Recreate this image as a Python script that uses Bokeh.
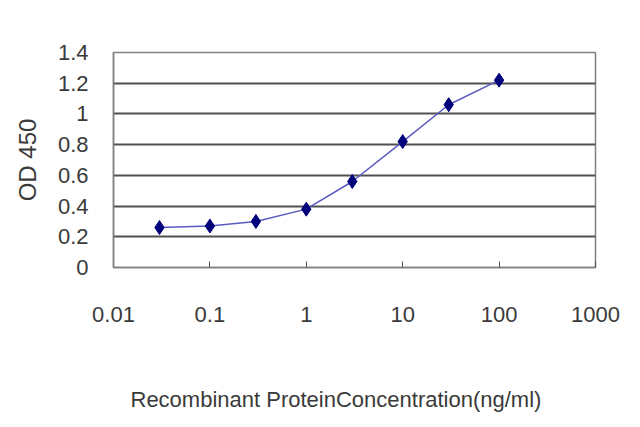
from bokeh.plotting import figure
from bokeh.models import FixedTicker, Range1d, Title
from bokeh.embed import file_html
from bokeh.resources import INLINE

concentration = [0.03, 0.1, 0.3, 1, 3, 10, 30, 100]
od450 = [0.26, 0.27, 0.30, 0.38, 0.56, 0.82, 1.06, 1.22]
x_ticks = [0.01, 0.1, 1, 10, 100, 1000]
x_tick_labels = ["0.01", "0.1", "1", "10", "100", "1000"]
y_ticks = [0, 0.2, 0.4, 0.6, 0.8, 1.0, 1.2, 1.4]
y_tick_labels = ["0", "0.2", "0.4", "0.6", "0.8", "1", "1.2", "1.4"]
x_title = "Recombinant ProteinConcentration(ng/ml)"
y_title = "OD 450"

FONT = "Liberation Sans"
TXT = "#3a3a3a"

p = figure(width=624, height=413, x_axis_type="log",
           x_range=Range1d(0.01, 1000), y_range=Range1d(0, 1.4),
           output_backend="svg", toolbar_location=None,
           min_border_left=113, min_border_right=29,
           min_border_top=52, min_border_bottom=144)
p.background_fill_color = "white"
p.border_fill_color = "white"
p.outline_line_color = "#808080"
p.outline_line_width = 1.5

p.xaxis.ticker = FixedTicker(ticks=x_ticks, minor_ticks=[])
p.xaxis.major_label_overrides = {t: l for t, l in zip(x_ticks, x_tick_labels)}
p.yaxis.ticker = FixedTicker(ticks=y_ticks, minor_ticks=[])
p.yaxis.major_label_overrides = {t: l for t, l in zip(y_ticks, y_tick_labels)}

p.xgrid.grid_line_color = None
p.ygrid.grid_line_color = "#505050"
p.ygrid.grid_line_width = 2

for ax in (p.xaxis, p.yaxis):
    ax.axis_line_color = "#808080"
    ax.axis_line_width = 1.5
    ax.major_label_text_font = FONT
    ax.major_label_text_font_size = "22px"
    ax.major_label_text_color = TXT
    ax.axis_label_text_font = FONT
    ax.axis_label_text_font_style = "normal"
    ax.axis_label_text_color = TXT
    ax.minor_tick_line_color = None

p.xaxis.major_tick_in = 6
p.xaxis.major_tick_out = 0
p.xaxis.major_tick_line_color = "#555555"
p.xaxis.major_label_standoff = 39
# blank spacer label so the x title (below) sits lower
p.xaxis.axis_label = " "
p.xaxis.axis_label_text_font_size = "2px"
p.xaxis.axis_label_text_alpha = 0
p.xaxis.axis_label_standoff = 57

p.yaxis.major_tick_line_color = None
p.yaxis.major_tick_in = 0
p.yaxis.major_tick_out = 0
p.yaxis.major_label_standoff = 25
p.yaxis.axis_label = y_title
p.yaxis.axis_label_text_font_size = "24px"
p.yaxis.axis_label_standoff = 14

xt = Title(text=x_title, align="left", offset=17, standoff=0,
           vertical_align="top",
           text_font=FONT, text_font_size="22px", text_font_style="normal",
           text_color=TXT)
p.add_layout(xt, "below")

p.line(concentration, od450, line_color="#5a5ac0", line_width=1.5)
p.scatter(concentration, od450, marker="diamond", size=14,
          fill_color="#00007a", line_color="#00007a")

open("out.html", "w").write(file_html(p, INLINE))
